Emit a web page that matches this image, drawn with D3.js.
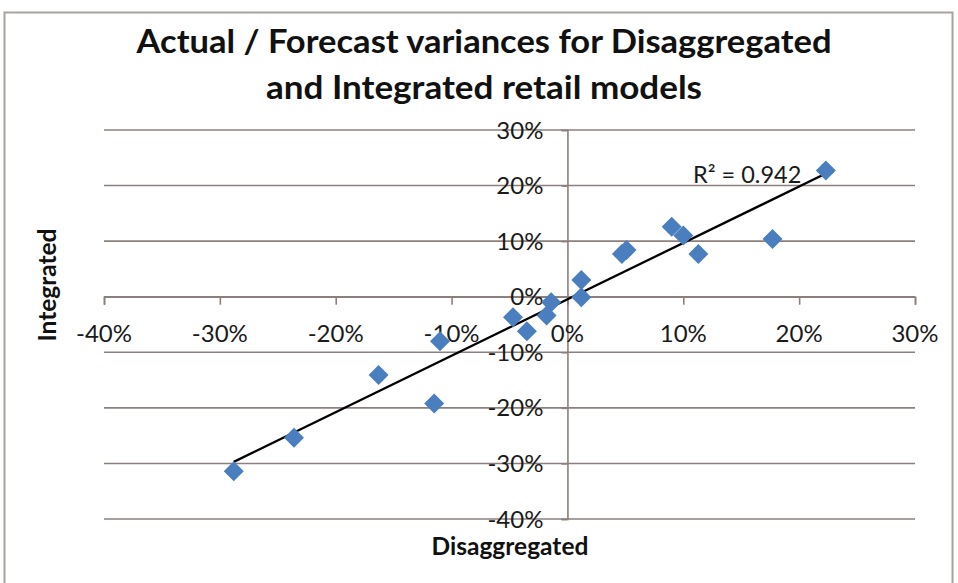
<!DOCTYPE html>
<html>
<head>
<meta charset="utf-8">
<script src="https://cdn.jsdelivr.net/npm/d3@7/dist/d3.min.js"></script>
<style>
  html, body { margin: 0; padding: 0; background: #ffffff; }
  svg { display: block; }
  text { font-family: Lato, "Open Sans", "Liberation Sans", sans-serif; }
</style>
</head>
<body>
<svg id="chart" width="958" height="583"></svg>
<script>
// Variance (%) of actual vs forecast, one point per retail store / period
const disaggregated = [22.3, 17.7, 9.0, 10.0, 11.3, 4.7, 5.1, 1.2, 1.2, -1.4, -1.8, -4.7, -3.5, -11.0, -16.3, -11.5, -23.6, -28.8];
const integrated    = [22.7, 10.4, 12.6, 11.0, 7.7, 7.7, 8.4, 3.0, -0.1, -1.0, -3.4, -3.7, -6.2, -8.0, -14.1, -19.2, -25.4, -31.4];

const xTicks = [-40, -30, -20, -10, 0, 10, 20, 30];
const yTicks = [-40, -30, -20, -10, 0, 10, 20, 30];

const titleLines = ["Actual / Forecast variances for Disaggregated", "and Integrated retail models"];
const xTitle = "Disaggregated";
const yTitle = "Integrated";
const r2Label = "R\u00B2 = 0.942";

const svg = d3.select("#chart");

// outer chart frame
svg.append("rect")
  .attr("x", 4.5).attr("y", 12.5)
  .attr("width", 948).attr("height", 590)
  .attr("fill", "#ffffff")
  .attr("stroke", "#aaa29e").attr("stroke-width", 2);

const x = d3.scaleLinear().domain([-40, 30]).range([104, 915]);
const y = d3.scaleLinear().domain([-40, 30]).range([519, 130]);

const gridColor = "#8c807c";

// horizontal gridlines
svg.append("g").selectAll("line").data(yTicks).join("line")
  .attr("x1", x(-40)).attr("x2", x(30))
  .attr("y1", d => y(d)).attr("y2", d => y(d))
  .attr("stroke", gridColor).attr("stroke-width", 1.6);

// x axis crossing at 0, ticks pointing down
const xAxis = d3.axisBottom(x).tickValues(xTicks).tickSize(8).tickFormat("");
const gx = svg.append("g").attr("transform", `translate(0,${y(0)})`).call(xAxis);
gx.select(".domain").attr("stroke", gridColor).attr("stroke-width", 1.6);
gx.selectAll(".tick line").attr("stroke", gridColor).attr("stroke-width", 1.6);

// y axis crossing at 0
const yAxis = d3.axisLeft(y).tickValues(yTicks).tickSize(6).tickFormat("");
const gy = svg.append("g").attr("transform", `translate(${x(0)},0)`).call(yAxis);
gy.select(".domain").attr("stroke", gridColor).attr("stroke-width", 1.6);
gy.selectAll(".tick line").attr("stroke", gridColor).attr("stroke-width", 1.6);

// tick labels
svg.append("g").selectAll("text").data(xTicks).join("text")
  .attr("x", d => x(d)).attr("y", y(0) + 45)
  .attr("text-anchor", "middle")
  .attr("font-size", 24).attr("fill", "#1a1a1a")
  .text(d => d + "%");

svg.append("g").selectAll("text").data(yTicks).join("text")
  .attr("x", x(0) - 24).attr("y", d => y(d) + 8.5)
  .attr("text-anchor", "end")
  .attr("font-size", 24).attr("fill", "#1a1a1a")
  .text(d => d + "%");

// least-squares trend line over the data range
const pts = disaggregated.map((d, i) => [d, integrated[i]]);
const mx = d3.mean(pts, p => p[0]);
const my = d3.mean(pts, p => p[1]);
const sxy = d3.sum(pts, p => (p[0] - mx) * (p[1] - my));
const sxx = d3.sum(pts, p => (p[0] - mx) ** 2);
const slope = sxy / sxx;
const intercept = my - slope * mx;
const [xmin, xmax] = d3.extent(disaggregated);

svg.append("line")
  .attr("x1", x(xmin)).attr("y1", y(intercept + slope * xmin))
  .attr("x2", x(xmax)).attr("y2", y(intercept + slope * xmax))
  .attr("stroke", "#000").attr("stroke-width", 2.3);

// diamond markers
const h = 10;
const diamond = `M0,${-h}L${h},0L0,${h}L${-h},0Z`;
svg.append("g").selectAll("path").data(pts).join("path")
  .attr("d", diamond)
  .attr("transform", p => `translate(${x(p[0])},${y(p[1])})`)
  .attr("fill", "#4a7ebf");

// trend line label
svg.append("text")
  .attr("x", 693).attr("y", 183)
  .attr("font-size", 23.5).attr("fill", "#1a1a1a")
  .text(r2Label);

// title
const titleWidths = [695, 436];
svg.append("g").selectAll("text").data(titleLines).join("text")
  .attr("x", 484).attr("y", (d, i) => 53 + i * 46)
  .attr("text-anchor", "middle")
  .attr("font-size", 33).attr("font-weight", "bold").attr("fill", "#111")
  .attr("textLength", (d, i) => titleWidths[i])
  .attr("lengthAdjust", "spacingAndGlyphs")
  .text(d => d);

// axis titles
svg.append("text")
  .attr("x", 510).attr("y", 555)
  .attr("text-anchor", "middle")
  .attr("font-size", 24.5).attr("font-weight", "bold").attr("fill", "#111")
  .text(xTitle);

svg.append("text")
  .attr("transform", "translate(56,285) rotate(-90)")
  .attr("text-anchor", "middle")
  .attr("font-size", 24.5).attr("font-weight", "bold").attr("fill", "#111")
  .text(yTitle);
</script>
</body>
</html>
